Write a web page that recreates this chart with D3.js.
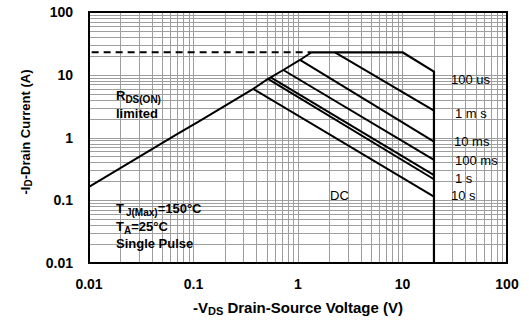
<!DOCTYPE html>
<html><head><meta charset="utf-8">
<script src="https://cdn.jsdelivr.net/npm/d3@7"></script>
<style>
html,body{margin:0;padding:0;background:#fff;}
svg{display:block;font-family:"Liberation Sans",Arial,sans-serif;}
</style></head><body>
<svg id="chart" width="529" height="328"></svg>
<script>
// ---- data ----
const xTickValues = [0.01, 0.1, 1, 10, 100];
const xTickLabels = ["0.01", "0.1", "1", "10", "100"];
const yTickValues = [0.01, 0.1, 1, 10, 100];
const yTickLabels = ["0.01", "0.1", "1", "10", "100"];

// R_DS(ON) limit line
const rdsVoltage = [0.01, 0.069, 0.115, 0.373, 0.516, 0.548, 0.723, 1.045, 1.35];
const rdsCurrent = [0.164, 1.12, 1.84, 5.95, 8.6, 9.1, 11.9, 17.2, 22.8];

// 100 us boundary and 20 V limit
const limitVoltage = [1.35, 10, 20, 20];
const limitCurrent = [22.8, 22.8, 11.2, 0.01];

// dashed pulsed-current limit
const dashedVoltage = [0.0106, 1.35];
const dashedCurrent = [22.8, 22.8];

// pulse-width lines (start on R_DS(ON) line, end at 20 V)
const pulseNames = ["1 ms", "10 ms", "100 ms", "1 s", "DC-a", "10 s"];
const pulseStartVoltage = [2.26, 1.045, 0.723, 0.548, 0.516, 0.373];
const pulseStartCurrent = [22.8, 17.2, 11.9, 9.1, 8.6, 5.95];
const pulseEndVoltage = [20, 20, 20, 20, 20, 20];
const pulseEndCurrent = [2.67, 0.857, 0.44, 0.252, 0.216, 0.114];

const curveLabels = ["100 us", "1 m s", "10 ms", "100 ms", "1 s", "10 s", "DC"];

// ---- drawing ----
const svg = d3.select("#chart");
const M = {left: 89, right: 507, top: 12, bottom: 263};
const x = d3.scaleLog().domain([0.01, 100]).range([M.left, M.right]);
const y = d3.scaleLog().domain([0.01, 100]).range([M.bottom, M.top]);

// grid
const minor = [];
[0.01, 0.1, 1, 10].forEach(d => { for (let k = 2; k <= 9; k++) minor.push(k * d); });
const gridVals = minor.concat([0.1, 1, 10]);
const grid = svg.append("g").attr("stroke", "#9e9e9e").attr("stroke-width", 1).attr("shape-rendering", "crispEdges");
grid.selectAll(".gv").data(gridVals).enter().append("line")
  .attr("x1", d => Math.round(x(d)) + 0.5).attr("x2", d => Math.round(x(d)) + 0.5)
  .attr("y1", M.top).attr("y2", M.bottom);
grid.selectAll(".gh").data(gridVals).enter().append("line")
  .attr("y1", d => Math.round(y(d)) + 0.5).attr("y2", d => Math.round(y(d)) + 0.5)
  .attr("x1", M.left).attr("x2", M.right);

const line = d3.line().x(d => x(d[0])).y(d => y(d[1]));
const zip = (a, b) => a.map((v, i) => [v, b[i]]);

// dashed
svg.append("path").datum(zip(dashedVoltage, dashedCurrent)).attr("d", line)
  .attr("fill", "none").attr("stroke", "#000").attr("stroke-width", 2).attr("stroke-dasharray", "7,5");
// rds
svg.append("path").datum(zip(rdsVoltage, rdsCurrent)).attr("d", line)
  .attr("fill", "none").attr("stroke", "#000").attr("stroke-width", 2).attr("stroke-linejoin", "round");
// limit
svg.append("path").datum(zip(limitVoltage, limitCurrent)).attr("d", line)
  .attr("fill", "none").attr("stroke", "#000").attr("stroke-width", 2.2).attr("stroke-linejoin", "round");
// pulses
svg.selectAll(".pulse").data(pulseNames).enter().append("path")
  .attr("d", (n, i) => line([[pulseStartVoltage[i], pulseStartCurrent[i]], [pulseEndVoltage[i], pulseEndCurrent[i]]]))
  .attr("fill", "none").attr("stroke", "#000").attr("stroke-width", 2);

// frame
svg.append("rect").attr("x", M.left).attr("y", M.top).attr("width", M.right - M.left).attr("height", M.bottom - M.top)
  .attr("fill", "none").attr("stroke", "#000").attr("stroke-width", 2);

// axes tick labels
svg.selectAll(".xt").data(xTickValues).enter().append("text")
  .attr("x", d => x(d)).attr("y", 289).attr("text-anchor", "middle")
  .attr("font-size", 14).attr("font-weight", "bold").text((d, i) => xTickLabels[i]);
svg.selectAll(".yt").data(yTickValues).enter().append("text")
  .attr("x", 73).attr("y", d => y(d) + 5).attr("text-anchor", "end")
  .attr("font-size", 14).attr("font-weight", "bold").text((d, i) => yTickLabels[i]);

// axis titles
const xt = svg.append("text").attr("x", 298).attr("y", 313).attr("text-anchor", "middle")
  .attr("font-size", 15).attr("font-weight", "bold");
xt.append("tspan").text("-V");
xt.append("tspan").attr("font-size", 11).attr("dy", 2).text("DS");
xt.append("tspan").attr("dy", -2).text(" Drain-Source Voltage (V)");

const yt = svg.append("text").attr("transform", "translate(30,132) rotate(-90)").attr("text-anchor", "middle")
  .attr("font-size", 13).attr("font-weight", "bold");
yt.append("tspan").text("-I");
yt.append("tspan").attr("font-size", 10).attr("dy", 2).text("D");
yt.append("tspan").attr("dy", -2).text("-Drain Current (A)");

// annotations
const rds = svg.append("text").attr("x", 116).attr("y", 100).attr("font-size", 13).attr("font-weight", "bold");
rds.append("tspan").text("R");
rds.append("tspan").attr("font-size", 10).attr("dy", 3).text("DS(ON)");
svg.append("text").attr("x", 116).attr("y", 118).attr("font-size", 13).attr("font-weight", "bold").text("limited");

const tj = svg.append("text").attr("x", 116).attr("y", 213).attr("font-size", 13).attr("font-weight", "bold");
tj.append("tspan").text("T");
tj.append("tspan").attr("font-size", 10).attr("dy", 3).attr("dx", 2).text("J(Max)");
tj.append("tspan").attr("dy", -3).text("=150°C");
const ta = svg.append("text").attr("x", 116).attr("y", 231).attr("font-size", 13).attr("font-weight", "bold");
ta.append("tspan").text("T");
ta.append("tspan").attr("font-size", 10).attr("dy", 3).text("A");
ta.append("tspan").attr("dy", -3).text("=25°C");
svg.append("text").attr("x", 116).attr("y", 248).attr("font-size", 13).attr("font-weight", "bold").text("Single Pulse");

const labelPos = [[451, 84], [455, 118], [454, 146], [455, 165], [455, 183], [451, 200], [330, 200]];
svg.selectAll(".cl").data(curveLabels).enter().append("text")
  .attr("x", (d, i) => labelPos[i][0]).attr("y", (d, i) => labelPos[i][1])
  .attr("font-size", 13).text(d => d);
</script>
</body></html>
